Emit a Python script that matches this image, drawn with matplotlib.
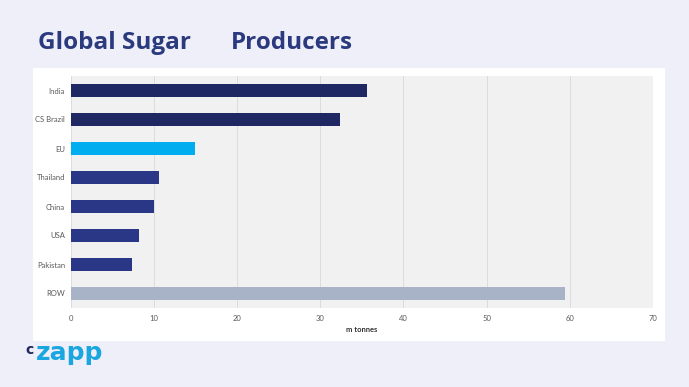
import matplotlib
matplotlib.use("Agg")
import matplotlib.pyplot as plt

countries = ["India", "CS Brazil", "EU", "Thailand", "China", "USA", "Pakistan", "ROW"]
production = [35.6, 32.4, 15.0, 10.6, 10.0, 8.2, 7.4, 59.4]
bar_colors = ["#1f2862", "#1f2862", "#00aeef", "#2a3787", "#2a3787", "#2a3787", "#2a3787", "#a8b3c7"]
xticks = [0, 10, 20, 30, 40, 50, 60, 70]

W, H = 689, 387
fig = plt.figure(figsize=(W / 100, H / 100), dpi=100)
fig.patch.set_facecolor("#eeeff9")

# white card behind the chart
card = fig.add_axes([33 / W, 1 - 341 / H, (665 - 33) / W, (341 - 68) / H])
card.set_facecolor("white")
card.set_xticks([])
card.set_yticks([])
for s in card.spines.values():
    s.set_visible(False)
card.set_zorder(0)

ax = fig.add_axes([70.5 / W, 1 - 308 / H, (653 - 70.5) / W, (308 - 76) / H])
ax.set_zorder(1)
ax.set_facecolor("#f1f1f2")
y = list(range(len(countries)))
ax.barh(y, production, height=0.48, color=bar_colors, zorder=3)
ax.set_ylim(len(countries) - 0.5, -0.5)
ax.set_xlim(0, 70)
ax.set_yticks(y)
ax.set_yticklabels(countries, family="Lato")
ax.set_xticks(xticks)
ax.set_xticklabels([str(t) for t in xticks], family="Lato")
ax.grid(axis="x", color="#dcdcdf", linewidth=0.7, zorder=0)
for s in ax.spines.values():
    s.set_visible(False)
ax.tick_params(length=0, labelsize=5.5, labelcolor="#5a5a5a", pad=4)
ax.tick_params(axis="x", pad=5)
ax.set_xlabel("m tonnes", fontsize=5.5, fontweight="bold", family="Lato", color="#333333", labelpad=3)

fig.text(38 / W, 1 - 43 / H, "Global Sugar", fontsize=17.5, fontweight="bold",
         family="Open Sans", color="#2b3a7e", va="center", ha="left")
fig.text(231 / W, 1 - 43 / H, "Producers", fontsize=17.5, fontweight="bold",
         family="Open Sans", color="#2b3a7e", va="center", ha="left")

# czapp logo
fig.text(25 / W, 1 - 354 / H, "c", fontsize=10, fontweight="bold", family="DejaVu Sans",
         color="#1f2862", va="baseline", ha="left")
fig.text(36 / W, 1 - 360 / H, "zapp", fontsize=18, fontweight="bold", family="DejaVu Sans",
         color="#1ba6e0", va="baseline", ha="left")

fig.savefig("out.png", dpi=100, facecolor=fig.get_facecolor())
